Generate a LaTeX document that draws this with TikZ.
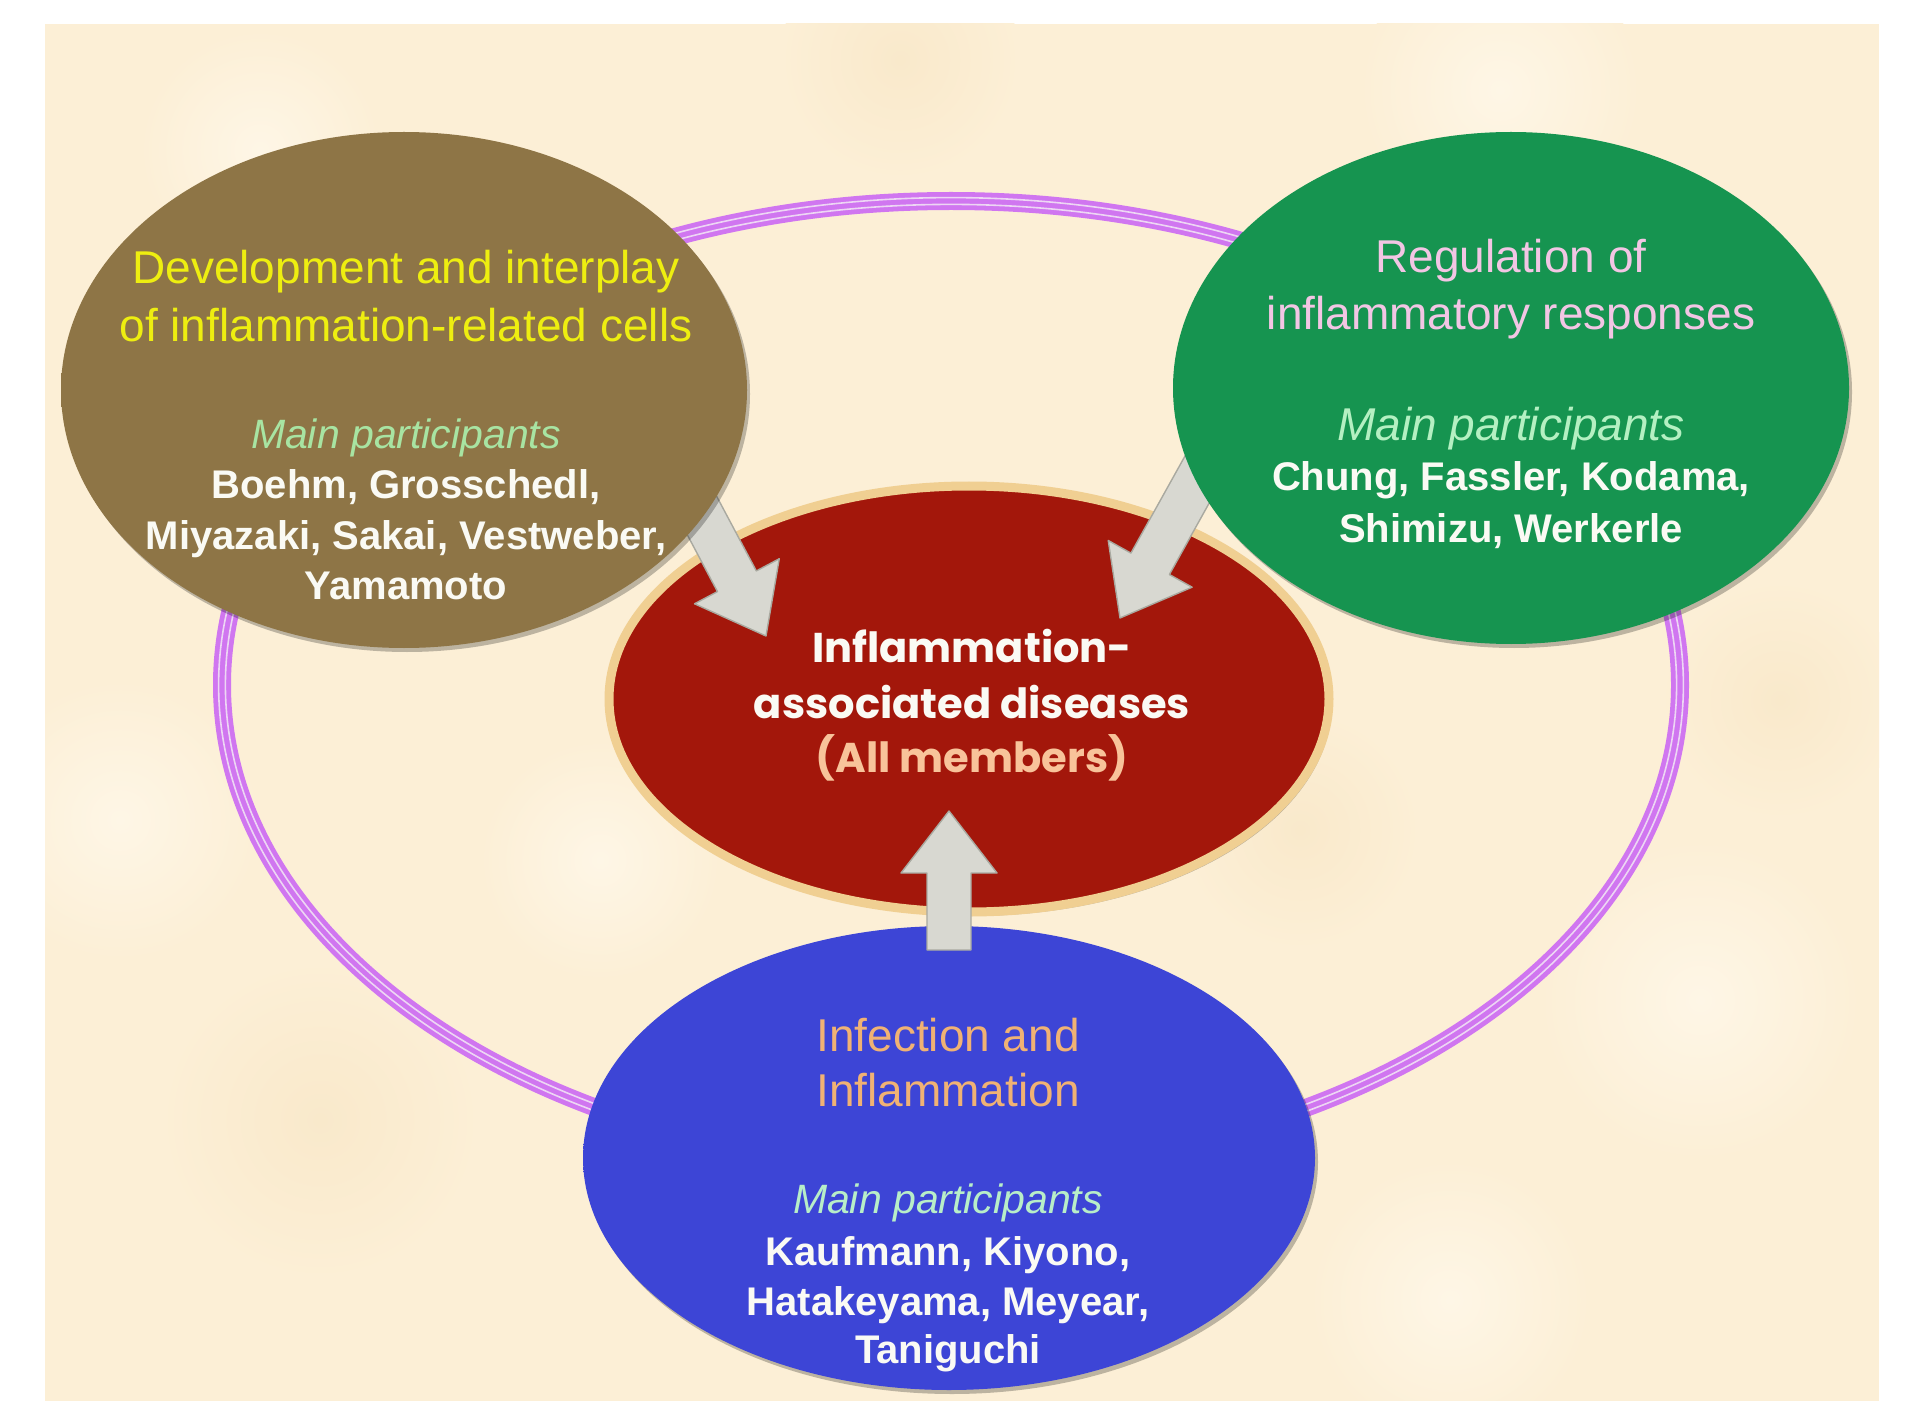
\documentclass[tikz,border=0pt]{standalone}
\usepackage{fontspec}
\setmainfont{Liberation Sans}
\newfontfamily\gothicfont{Poppins}
\usetikzlibrary{shapes.geometric,calc,shadows}
\definecolor{bgcream}{HTML}{FCEFD6}
\definecolor{bglight}{HTML}{FEF6E6}
\definecolor{bgdark}{HTML}{F9E9CB}
\definecolor{ringpurple}{HTML}{D076F0}
\definecolor{ringlight}{HTML}{EDD6F4}
\definecolor{brA}{HTML}{8E7546}
\definecolor{brB}{HTML}{6C5630}
\definecolor{grA}{HTML}{169450}
\definecolor{grB}{HTML}{0D7438}
\definecolor{rdA}{HTML}{A3170B}
\definecolor{rdB}{HTML}{7E0F05}
\definecolor{blA}{HTML}{3D45D6}
\definecolor{blB}{HTML}{2A2FA6}
\definecolor{halo}{HTML}{F0CF92}
\definecolor{arrowfill}{HTML}{D8D8D1}
\definecolor{arrowline}{HTML}{A9A9A0}
\definecolor{yellowT}{HTML}{EEEE10}
\definecolor{mintT}{HTML}{A8E4A2}
\definecolor{mintG}{HTML}{B4F0C2}
\definecolor{mintB}{HTML}{B8EEC8}
\definecolor{pinkT}{HTML}{F2C6E4}
\definecolor{orangeT}{HTML}{F0B274}
\definecolor{peachT}{HTML}{F8C39A}
\definecolor{nameW}{HTML}{FAFAF4}
\pgfdeclareradialshading{brownsh}{\pgfpoint{0bp}{0bp}}{color(0bp)=(brA); color(38bp)=(brA); color(46bp)=(brA!80!brB); color(50bp)=(brB)}
\pgfdeclareradialshading{greensh}{\pgfpoint{0bp}{0bp}}{color(0bp)=(grA); color(38bp)=(grA); color(46bp)=(grA!80!grB); color(50bp)=(grB)}
\pgfdeclareradialshading{redsh}{\pgfpoint{0bp}{0bp}}{color(0bp)=(rdA); color(38bp)=(rdA); color(46bp)=(rdA!80!rdB); color(50bp)=(rdB)}
\pgfdeclareradialshading{bluesh}{\pgfpoint{0bp}{0bp}}{color(0bp)=(blA); color(38bp)=(blA); color(46bp)=(blA!80!blB); color(50bp)=(blB)}
\newcommand\blkarrow[3]{%
  \coordinate (#3b) at ($(#2)!31pt!(#1)$);
  \filldraw[arrowsty]
    ($(#1)!11pt!90:(#2)$) -- ($(#3b)!11pt!90:(#2)$) -- ($(#3b)!24pt!90:(#2)$) --
    (#2) -- ($(#3b)!24pt!-90:(#2)$) -- ($(#3b)!11pt!-90:(#2)$) --
    ($(#1)!11pt!-90:(#2)$) -- cycle;}
\begin{document}
\begin{tikzpicture}[x=0.5pt,y=-0.5pt,
  blob/.style={ellipse, inner sep=0pt, outer sep=0pt,
    drop shadow={shadow xshift=1.5pt, shadow yshift=-2pt, opacity=0.25, fill=black}},
  spot/.style={shading=radial, inner color=#1, outer color=bgcream},
  arrowsty/.style={fill=arrowfill, draw=arrowline, line width=0.7pt, line join=round},
  ttl/.style={anchor=base, inner sep=0pt, font=\fontsize{23}{28}\selectfont},
  mpa/.style={anchor=base, inner sep=0pt, font=\fontsize{20.5}{25}\selectfont\itshape},
  mpb/.style={anchor=base, inner sep=0pt, font=\fontsize{23}{28}\selectfont\itshape},
  nm/.style={anchor=base, inner sep=0pt, text=nameW, font=\fontsize{20}{25}\selectfont\bfseries},
  ctr/.style={anchor=base, inner sep=0pt, font=\gothicfont\bfseries\fontsize{20.8}{26}\selectfont}]
\useasboundingbox (0,0) rectangle (1912,1401);
\fill[white] (0,0) rectangle (1912,1401);
\fill[bgcream] (45,24) rectangle (1879,1401);
% faint parchment mottling
\begin{scope}
\clip (45,24) rectangle (1879,1401);
\shade[spot=bglight] (260,150) circle (60pt);
\shade[spot=bglight] (1500,90) circle (70pt);
\shade[spot=bgdark] (900,60) circle (60pt);
\shade[spot=bglight] (120,820) circle (70pt);
\shade[spot=bgdark] (320,1120) circle (80pt);
\shade[spot=bglight] (1700,1000) circle (80pt);
\shade[spot=bgdark] (1780,700) circle (60pt);
\shade[spot=bglight] (1450,1300) circle (70pt);
\shade[spot=bglight] (600,860) circle (60pt);
\shade[spot=bgdark] (1300,830) circle (60pt);
\end{scope}
% ring
\coordinate (ringc) at (951,685);
\draw[ringpurple, line width=9pt] (ringc) ellipse [x radius=364.5pt, y radius=242pt];
\draw[ringlight, line width=0.8pt] (ringc) ellipse [x radius=362.8pt, y radius=240.3pt];
\draw[ringlight, line width=0.8pt] (ringc) ellipse [x radius=366.2pt, y radius=243.7pt];
% centre ellipse
\node[blob, draw=halo, line width=4.5pt, shading=redsh, minimum width=360pt, minimum height=213pt] (red) at (969,699) {};
% arrows
\coordinate (aLt) at (682,478);
\coordinate (aLh) at (766,636);
\coordinate (aRt) at (1218,442);
\coordinate (aRh) at (1120,618);
\coordinate (aBt) at (949,950);
\coordinate (aBh) at (949,811);
\blkarrow{aLt}{aLh}{aL}
\blkarrow{aRt}{aRh}{aR}
% outer ellipses
\node[blob, shading=brownsh, minimum width=343pt, minimum height=258pt] (brown) at (404,390) {};
\node[blob, shading=greensh, minimum width=338pt, minimum height=256pt] (green) at (1511,388) {};
\node[blob, shading=bluesh, minimum width=366pt, minimum height=232pt] (blue) at (949,1158) {};
\blkarrow{aBt}{aBh}{aB}
% brown text
\node[ttl, text=yellowT] (b1) at (406,284) {Development and interplay};
\node[ttl, text=yellowT] (b2) at (406,342) {of inflammation-related cells};
\node[mpa, text=mintT] (b3) at (406,449) {Main participants};
\node[nm] (b4) at (406,499) {Boehm, Grosschedl,};
\node[nm] (b5) at (406,549) {Miyazaki, Sakai, Vestweber,};
\node[nm] (b6) at (406,599) {Yamamoto};
% green text
\node[ttl, text=pinkT] (g1) at (1511,273) {Regulation of};
\node[ttl, text=pinkT] (g2) at (1511,330) {inflammatory responses};
\node[mpb, text=mintG] (g3) at (1511,441) {Main participants};
\node[nm] (g4) at (1511,491) {Chung, Fassler, Kodama,};
\node[nm] (g5) at (1511,543) {Shimizu, Werkerle};
% red text
\node[ctr, text=nameW] (r1) at (972,662) {Inflammation-};
\node[ctr, text=nameW] (r2) at (972,718) {associated diseases};
\node[ctr, text=peachT] (r3) at (972,772) {(All members)};
% blue text
\node[ttl, text=orangeT] (u1) at (948,1051) {Infection and};
\node[ttl, text=orangeT] (u2) at (948,1106) {Inflammation};
\node[mpa, text=mintB] (u3) at (948,1213) {Main participants};
\node[nm] (u4) at (948,1265) {Kaufmann, Kiyono,};
\node[nm] (u5) at (948,1315) {Hatakeyama, Meyear,};
\node[nm] (u6) at (948,1363) {Taniguchi};
\end{tikzpicture}
\end{document}
